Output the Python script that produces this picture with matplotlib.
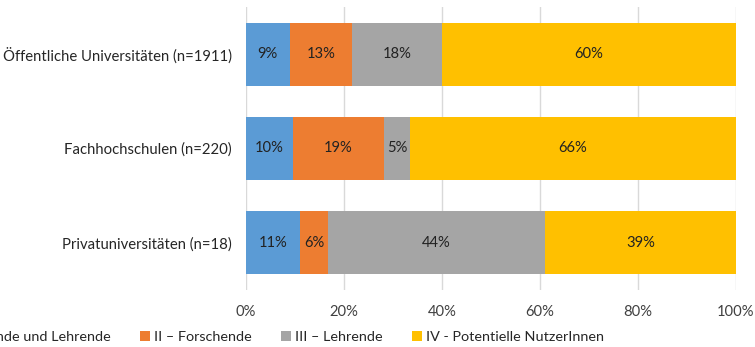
import matplotlib.pyplot as plt
import numpy as np

plt.rcParams['font.family'] = ['Lato', 'DejaVu Sans']

categories = ['Öffentliche Universitäten (n=1911)', 'Fachhochschulen (n=220)', 'Privatuniversitäten (n=18)']
series = ['I – Forschende und Lehrende', 'II – Forschende', 'III – Lehrende', 'IV - Potentielle NutzerInnen']
values = [
    [8.9, 9.5, 11.1],     # I
    [12.7, 18.6, 5.6],    # II
    [18.4, 5.45, 44.4],   # III
    [60.0, 66.4, 38.9],   # IV
]
colors = ['#5b9bd5', '#ed7d31', '#a5a5a5', '#ffc000']

fig = plt.figure(figsize=(7.55, 3.47), dpi=100)
ax = fig.add_axes([246/755, 1 - 290/347, 490/755, 283/347])

y = np.arange(len(categories))[::-1]
left = np.zeros(len(categories))
for name, vals, c in zip(series, values, colors):
    vals = np.array(vals)
    ax.barh(y, vals, left=left, height=0.67, color=c, label=name, zorder=3)
    for yy, l, v in zip(y, left, vals):
        ax.text(l + v / 2, yy, f'{round(v)}%', ha='center', va='center', fontsize=10.6, color='#222222', zorder=4)
    left += vals

ax.set_xlim(0, 100)
ax.set_ylim(-0.5, 2.5)
ax.set_xticks(np.arange(0, 101, 20))
ax.set_xticklabels([f'{t}%' for t in range(0, 101, 20)], fontsize=10.6, color='#404040')
ax.set_yticks(y)
ax.set_yticklabels(categories, fontsize=10.7, color='#262626')
ax.tick_params(length=0, pad=10)
ax.tick_params(axis='x', pad=11)
ax.grid(axis='x', color='#d9d9d9', linewidth=1, zorder=0)
for s in ax.spines.values():
    s.set_visible(False)

fig.legend(loc='center right', bbox_to_anchor=(604/755, 1 - 337/347), ncol=4, frameon=False,
           fontsize=10.4, handlelength=0.7, handleheight=0.7, handletextpad=0.25,
           columnspacing=2.05, borderpad=0, borderaxespad=0, labelcolor='#262626')

fig.savefig('out.png', dpi=100)
